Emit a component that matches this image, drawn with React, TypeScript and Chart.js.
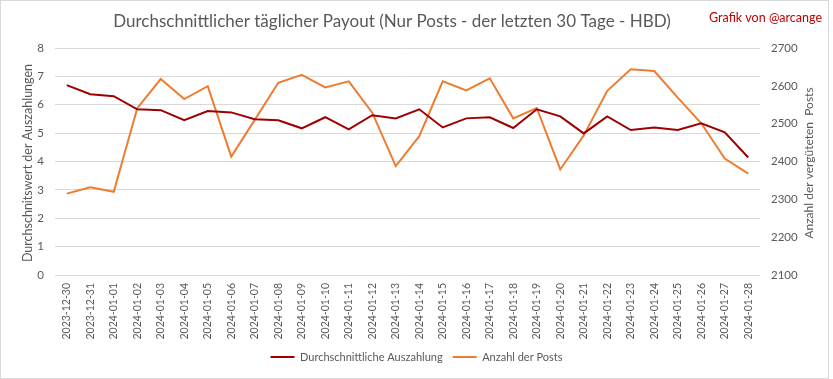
import React, { useEffect, useRef } from "react";
import { Chart, registerables } from "chart.js";

Chart.register(...registerables);

const dates = [
  "2023-12-30", "2023-12-31", "2024-01-01", "2024-01-02", "2024-01-03", "2024-01-04",
  "2024-01-05", "2024-01-06", "2024-01-07", "2024-01-08", "2024-01-09", "2024-01-10",
  "2024-01-11", "2024-01-12", "2024-01-13", "2024-01-14", "2024-01-15", "2024-01-16",
  "2024-01-17", "2024-01-18", "2024-01-19", "2024-01-20", "2024-01-21", "2024-01-22",
  "2024-01-23", "2024-01-24", "2024-01-25", "2024-01-26", "2024-01-27", "2024-01-28",
];

const avgPayout = [
  6.69, 6.37, 6.3, 5.84, 5.81, 5.46, 5.78, 5.73, 5.49, 5.45, 5.17, 5.56, 5.13, 5.63, 5.52,
  5.84, 5.2, 5.52, 5.56, 5.18, 5.84, 5.59, 4.99, 5.59, 5.11, 5.2, 5.11, 5.35, 5.03, 4.14,
];

const postCount = [
  2315, 2332, 2320, 2541, 2618, 2565, 2599, 2413, 2510, 2608, 2629, 2596, 2612, 2529, 2388,
  2467, 2612, 2588, 2620, 2514, 2541, 2379, 2469, 2587, 2644, 2639, 2569, 2501, 2408, 2368,
];

const titleText = "Durchschnittlicher täglicher Payout (Nur Posts - der letzten 30 Tage - HBD)";
const creditText = "Grafik von @arcange";
const leftAxisTitle = "Durchschnitswert der Auszahlungen";
const rightAxisTitle = "Anzahl der vergüteten  Posts";
const seriesNames = ["Durchschnittliche Auszahlung", "Anzahl der Posts"];

const FONT = "Lato, 'Open Sans', sans-serif";
const TEXT = "#595959";
const GRID = "#d9d9d9";
const RED = "#9e0000";
const ORANGE = "#ed7d31";

const textPlugin = {
  id: "textPlugin",
  afterDraw(chart: any) {
    const ctx = chart.ctx;
    ctx.save();
    // border
    ctx.strokeStyle = GRID;
    ctx.lineWidth = 1;
    ctx.strokeRect(0.5, 0.5, 828, 378);
    // title
    ctx.fillStyle = TEXT;
    ctx.font = `17px ${FONT}`;
    ctx.textAlign = "center";
    ctx.textBaseline = "middle";
    ctx.fillText(titleText, 392, 22);
    // credit
    ctx.fillStyle = "#c00000";
    ctx.font = `12.5px ${FONT}`;
    ctx.textAlign = "right";
    ctx.fillText(creditText, 822, 18);
    // axis titles
    ctx.fillStyle = TEXT;
    ctx.font = `12.5px ${FONT}`;
    ctx.textAlign = "center";
    ctx.save();
    ctx.translate(28, 163);
    ctx.rotate(-Math.PI / 2);
    ctx.fillText(leftAxisTitle, 0, 0);
    ctx.restore();
    ctx.save();
    ctx.translate(809, 163);
    ctx.rotate(-Math.PI / 2);
    ctx.font = `12px ${FONT}`;
    ctx.fillText(rightAxisTitle, 0, 0);
    ctx.restore();
    ctx.restore();
  },
};

export default function App() {
  const ref = useRef<HTMLCanvasElement | null>(null);

  useEffect(() => {
    document.body.style.margin = "0";
    const canvas = ref.current;
    if (!canvas) return;
    const chart = new Chart(canvas, {
      type: "line",
      data: {
        labels: dates,
        datasets: [
          {
            label: seriesNames[0],
            data: avgPayout,
            borderColor: RED,
            backgroundColor: RED,
            borderWidth: 2,
            pointRadius: 0,
            tension: 0,
            yAxisID: "y",
          },
          {
            label: seriesNames[1],
            data: postCount,
            borderColor: ORANGE,
            backgroundColor: ORANGE,
            borderWidth: 2,
            pointRadius: 0,
            tension: 0,
            yAxisID: "y1",
          },
        ],
      },
      options: {
        responsive: false,
        animation: false,
        maintainAspectRatio: false,
        layout: { padding: { top: 48, left: 0, right: 0, bottom: 6.5 } },
        plugins: {
          title: { display: false },
          tooltip: { enabled: false },
          legend: {
            position: "bottom",
            labels: {
              color: TEXT,
              font: { family: FONT, size: 11 },
              boxWidth: 24,
              boxHeight: 2,
              padding: 10,
              generateLabels(chart: any) {
                return chart.data.datasets.map((ds: any, i: number) => ({
                  text: ds.label,
                  fillStyle: ds.borderColor,
                  strokeStyle: ds.borderColor,
                  lineWidth: 0,
                  fontColor: TEXT,
                  hidden: false,
                  datasetIndex: i,
                }));
              },
            },
          },
        },
        scales: {
          x: {
            type: "category",
            offset: true,
            grid: { display: false, drawTicks: false },
            border: { display: false },
            ticks: {
              color: TEXT,
              font: { family: FONT, size: 10.5 },
              minRotation: 90,
              maxRotation: 90,
              autoSkip: false,
              padding: 8,
            },
            afterFit(scale: any) {
              scale.height = 66.5;
            },
          },
          y: {
            position: "left",
            min: 0,
            max: 8,
            ticks: {
              stepSize: 1,
              color: TEXT,
              font: { family: FONT, size: 11.5 },
              padding: 11,
            },
            grid: { color: GRID, lineWidth: 1, drawTicks: false },
            border: { display: false },
            afterFit(scale: any) {
              scale.width = 55;
            },
          },
          y1: {
            position: "right",
            min: 2100,
            max: 2700,
            ticks: {
              stepSize: 100,
              color: TEXT,
              font: { family: FONT, size: 11.5 },
              padding: 11,
              callback: (v: any) => String(v),
            },
            grid: { drawOnChartArea: false, drawTicks: false },
            border: { display: false },
            afterFit(scale: any) {
              scale.width = 73;
            },
          },
        },
      },
      plugins: [textPlugin],
    });
    return () => chart.destroy();
  }, []);

  return (
    <div style={{ width: 833, height: 379, position: "relative" }}>
      <canvas ref={ref} width={833} height={379} style={{ width: 833, height: 379, display: "block" }} />
    </div>
  );
}
